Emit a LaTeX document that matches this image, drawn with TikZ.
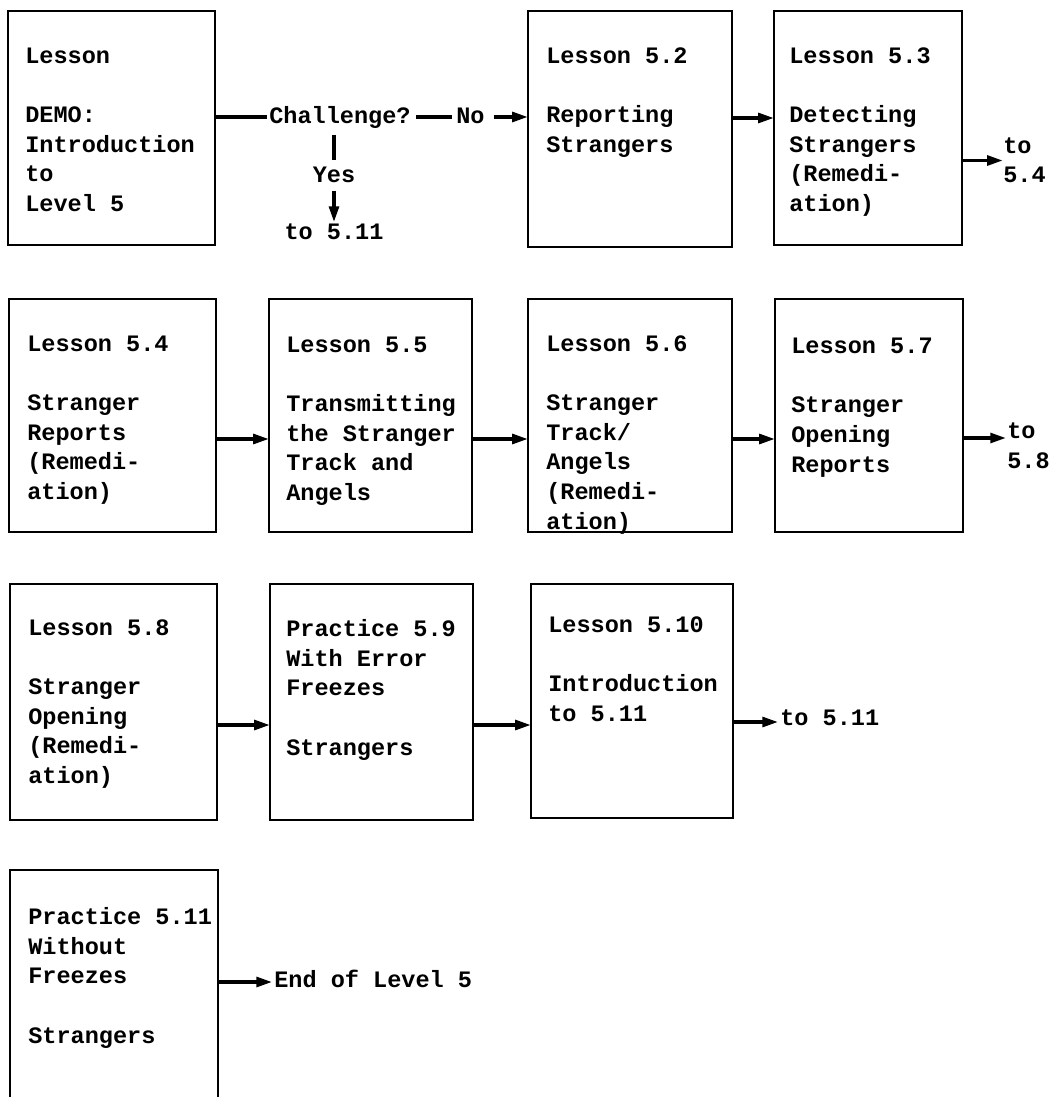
\documentclass[tikz,border=0pt]{standalone}
\usepackage{fontspec}
\newfontfamily\cour{Liberation Mono}
\usetikzlibrary{arrows.meta,fit}
\tikzset{
  box/.style={draw, line width=1.1pt, inner sep=0pt, outer sep=0pt},
  txt/.style={font=\cour\bfseries\fontsize{13.4pt}{16.8pt}\selectfont, align=left, inner sep=0pt, anchor=base west},
  arr/.style={line width=2pt, -{Triangle[length=9pt,width=5.5pt]}},
  ln/.style={line width=2pt}
}
\begin{document}
\begin{tikzpicture}[x=0.02cm,y=-0.02cm]
\useasboundingbox (0,0) rectangle (1051,1097);
% helper coordinates (rows of connectors)
\coordinate (r1) at (0,117);
\coordinate (r1b) at (0,118);
\coordinate (r2) at (0,439);
\coordinate (r2b) at (0,438);
\coordinate (r3) at (0,725);
\coordinate (r3b) at (0,722);
\coordinate (r4) at (0,982);
% boxes
\node[box, fit={(8,11)(215,245)}] (A) {};
\node[box, fit={(528,11)(732,247)}] (B) {};
\node[box, fit={(774,11)(962,245)}] (C) {};
\node[box, fit={(9,299)(216,532)}] (D) {};
\node[box, fit={(269,299)(472,532)}] (E) {};
\node[box, fit={(528,299)(732,532)}] (F) {};
\node[box, fit={(775,299)(963,532)}] (G) {};
\node[box, fit={(10,584)(217,820)}] (H) {};
\node[box, fit={(270,584)(473,820)}] (I) {};
\node[box, fit={(531,584)(733,818)}] (J) {};
\node[inner sep=0pt, outer sep=0pt, fit={(10,870)(218,1097)}] (K) {};
\draw[line width=1.1pt] (K.south west) -- (K.north west) -- (K.north east) -- (K.south east);
% box texts (anchored at the baseline of their last line)
\node[txt] (tA) at (25,211.5) {Lesson\\[16.8pt]DEMO:\\Introduction\\to\\Level 5};
\node[txt] (tB) at (546,152.5) {Lesson 5.2\\[16.8pt]Reporting\\Strangers};
\node[txt] (tC) at (789,211.5) {Lesson 5.3\\[16.8pt]Detecting\\Strangers\\(Remedi-\\ation)};
\node[txt] (tD) at (27,499.5) {Lesson 5.4\\[16.8pt]Stranger\\Reports\\(Remedi-\\ation)};
\node[txt] (tE) at (286,500.5) {Lesson 5.5\\[16.8pt]Transmitting\\the Stranger\\Track and\\Angels};
\node[txt] (tF) at (546,529) {Lesson 5.6\\[16.8pt]Stranger\\Track/\\Angels\\(Remedi-\\ation)};
\node[txt] (tG) at (791,472) {Lesson 5.7\\[16.8pt]Stranger\\Opening\\Reports};
\node[txt] (tH) at (28,783.5) {Lesson 5.8\\[16.8pt]Stranger\\Opening\\(Remedi-\\ation)};
\node[txt] (tI) at (286,755) {Practice 5.9\\With Error\\Freezes\\[16.8pt]Strangers};
\node[txt] (tJ) at (548,721.5) {Lesson 5.10\\[16.8pt]Introduction\\to 5.11};
\node[txt] (tK) at (28,1043) {Practice 5.11\\Without\\Freezes\\[16.8pt]Strangers};
% outside labels
\node[txt] (ch) at (269,124) {Challenge?};
\node[txt] (no) at (456,124) {No};
\node[txt, anchor=base] (yes) at (334,183) {Yes};
\node[txt, anchor=base] (t511a) at (334,240) {to 5.11};
\node[txt] (t54) at (1003,183) {to\\5.4};
\node[txt] (t58) at (1007,468) {to\\5.8};
\node[txt] (t511b) at (780,725) {to 5.11};
\node[txt] (endl) at (274,987) {End of Level 5};
% connectors
\draw[ln] (A.east |- r1) -- ([xshift=-1pt]ch.west |- r1);
\draw[ln] ([xshift=3pt]ch.east |- r1) -- ([xshift=-2pt]no.west |- r1);
\draw[arr] ([xshift=5pt]no.east |- r1) -- (B.west |- r1);
\draw[ln] ([yshift=-3pt]ch.south -| yes.north) -- ([yshift=4pt]yes.north);
\draw[arr] ([yshift=-4pt]yes.south) -- ([yshift=1pt]t511a.north);
\draw[arr] (B.east |- r1b) -- (C.west |- r1b);
\draw[arr] (C.east |- t54.west) -- (t54.west);
\draw[arr] (D.east |- r2) -- (E.west |- r2);
\draw[arr] (E.east |- r2) -- (F.west |- r2);
\draw[arr] (F.east |- r2) -- (G.west |- r2);
\draw[arr] (G.east |- r2b) -- ([xshift=-0.5pt]t58.west |- r2b);
\draw[arr] (H.east |- r3) -- (I.west |- r3);
\draw[arr] (I.east |- r3) -- (J.west |- r3);
\draw[arr] (J.east |- r3b) -- ([xshift=-1pt]t511b.west |- r3b);
\draw[arr] (K.east |- r4) -- ([xshift=-1pt]endl.west |- r4);
\end{tikzpicture}
\end{document}
